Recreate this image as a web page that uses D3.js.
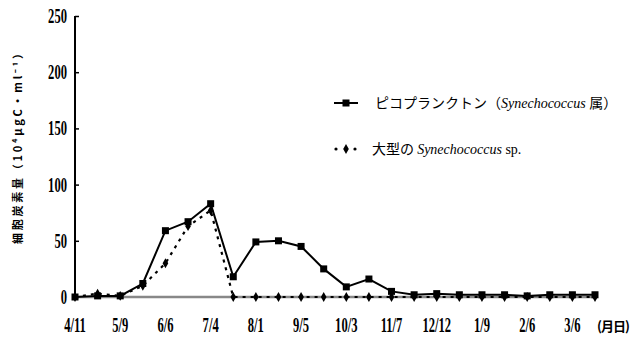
<!DOCTYPE html>
<html>
<head>
<meta charset="utf-8">
<script src="https://cdn.jsdelivr.net/npm/d3@7/dist/d3.min.js"></script>
<style>
  html, body { margin: 0; padding: 0; background: #fff; }
  svg { display: block; }
  .num { font-family: "Liberation Serif", serif; font-weight: bold; }
  .jp { font-family: "Noto Sans CJK JP", sans-serif; }
</style>
</head>
<body>
<svg id="chart" width="630" height="339"></svg>
<script>
// Sampling dates labelled on the x axis (every second sample is labelled)
const dateLabels = ["4/11", "5/9", "6/6", "7/4", "8/1", "9/5", "10/3", "11/7", "12/12", "1/9", "2/6", "3/6"];
const labelEvery = 2;

// Cell carbon (10^4 µgC·ml^-1) per sample, 24 samples
const picoplankton = [0, 1, 1, 12, 59, 67, 83, 18, 49, 50, 45, 25, 9, 16, 5, 2, 3, 2, 2, 2, 1, 2, 2, 2];
const largeSyn =     [0, 3, 1, 10, 30, 63, 77, 0, 0, 0, 0, 0, 0, 0, 0, 0, 0, 0, 0, 0, 0, 0, 0, 0];

const yTicks = [0, 50, 100, 150, 200, 250];

const svg = d3.select("#chart");
const margin = { left: 75, top: 16 };

const x = d3.scaleLinear().domain([0, picoplankton.length - 1]).range([margin.left, 595]);
const y = d3.scaleLinear().domain([0, 250]).range([297, margin.top]);

// Y axis: line with inward ticks
const yAxis = d3.axisRight(y).tickValues(yTicks).tickSize(4).tickFormat("");
const gy = svg.append("g").attr("transform", `translate(${margin.left},0)`).call(yAxis);
gy.select(".domain").attr("stroke", "#000").attr("stroke-width", 2)
  .attr("d", `M0,${y(250)}V${y(0)}`);
gy.selectAll(".tick line").attr("stroke", "#000").attr("stroke-width", 1.5);

// Y tick labels (condensed bold)
svg.append("g").selectAll("text").data(yTicks).join("text")
  .attr("class", "num")
  .attr("text-anchor", "end")
  .attr("transform", d => `translate(67,${y(d) + 7}) scale(0.6,1)`)
  .attr("font-size", 21)
  .text(d => d);

// X tick labels
svg.append("g").selectAll("text").data(dateLabels).join("text")
  .attr("class", "num")
  .attr("text-anchor", "middle")
  .attr("transform", (d, i) => `translate(${x(i * labelEvery)},332) scale(0.6,1)`)
  .attr("font-size", 21)
  .text(d => d);

svg.append("text").attr("class", "jp")
  .attr("x", 597).attr("y", 331).attr("font-size", 13).attr("font-weight", "bold")
  .attr("textLength", 33)
  .text("(月日)");

// Y axis title
svg.append("text").attr("class", "jp")
  .attr("transform", `translate(22,146) rotate(-90)`)
  .attr("text-anchor", "middle")
  .attr("font-size", 11)
  .attr("font-weight", "bold")
  .attr("textLength", 196)
  .text("細胞炭素量（10⁴μgC・ml⁻¹）");

// Baseline (zero level)
svg.append("line")
  .attr("x1", x(0)).attr("x2", x(picoplankton.length - 1))
  .attr("y1", y(0)).attr("y2", y(0))
  .attr("stroke", "#888").attr("stroke-width", 2.5);

const line = d3.line().x((d, i) => x(i)).y(d => y(d));

// Large Synechococcus: dotted line with diamond markers
svg.append("path").datum(largeSyn)
  .attr("d", line).attr("fill", "none")
  .attr("stroke", "#000").attr("stroke-width", 2.2)
  .attr("stroke-dasharray", "3,5");

const diamond = d3.symbol().type(d3.symbolDiamond).size(28);
svg.append("g").selectAll("path").data(largeSyn).join("path")
  .attr("transform", (d, i) => `translate(${x(i)},${y(d)})`)
  .attr("d", diamond).attr("fill", "#000");

// Picoplankton: solid line with square markers
svg.append("path").datum(picoplankton)
  .attr("d", line).attr("fill", "none")
  .attr("stroke", "#000").attr("stroke-width", 2);

svg.append("g").selectAll("rect").data(picoplankton).join("rect")
  .attr("x", (d, i) => x(i) - 3.5).attr("y", d => y(d) - 3.5)
  .attr("width", 7).attr("height", 7).attr("fill", "#000");

// Legend
const lg = svg.append("g");
lg.append("line").attr("x1", 334).attr("x2", 358).attr("y1", 103).attr("y2", 103)
  .attr("stroke", "#000").attr("stroke-width", 2);
lg.append("rect").attr("x", 342.5).attr("y", 99.5).attr("width", 7).attr("height", 7).attr("fill", "#000");
const t1 = lg.append("text").attr("x", 375).attr("y", 108).attr("font-size", 14);
t1.append("tspan").attr("class", "jp").text("ピコプランクトン（");
t1.append("tspan").attr("font-family", "Liberation Serif, serif").attr("font-style", "italic").text("Synechococcus ");
t1.append("tspan").attr("class", "jp").text("属）");

lg.append("circle").attr("cx", 336).attr("cy", 149).attr("r", 1.6).attr("fill", "#000");
lg.append("path").attr("transform", "translate(346,149)").attr("d", diamond).attr("fill", "#000");
lg.append("circle").attr("cx", 355).attr("cy", 149).attr("r", 1.6).attr("fill", "#000");
const t2 = lg.append("text").attr("x", 372).attr("y", 154).attr("font-size", 14);
t2.append("tspan").attr("class", "jp").text("大型の ");
t2.append("tspan").attr("font-family", "Liberation Serif, serif").attr("font-style", "italic").text("Synechococcus");
t2.append("tspan").attr("font-family", "Liberation Serif, serif").text(" sp.");
</script>
</body>
</html>
